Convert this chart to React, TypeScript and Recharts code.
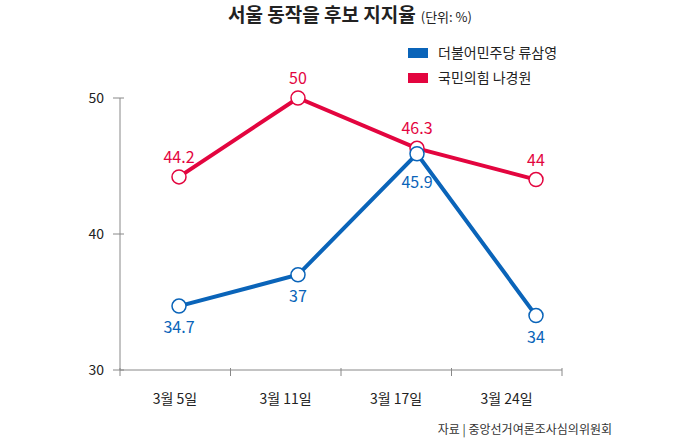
import { LineChart, Line, XAxis, YAxis, LabelList } from 'recharts';

document.body.style.margin = '0';

const dates = ['3월 5일', '3월 11일', '3월 17일', '3월 24일'];
const ryu = [34.7, 37, 45.9, 34];
const na = [44.2, 50, 46.3, 44];
const yTicks = [30, 40, 50];

const BLUE = '#0a64b9';
const RED = '#e3053f';
const FONT = '"Noto Sans CJK KR", "Noto Sans", sans-serif';

const data = dates.map((d, i) => ({ date: d, ryu: ryu[i], na: na[i] }));

function YTick({ x, y, payload }: any) {
  return (
    <g>
      <line x1={x + 1} x2={x + 12} y1={y} y2={y} stroke="#888" />
      <text x={x - 8} y={y + 5} textAnchor="end" fontSize={14} fill="#222" fontFamily={FONT}>
        {payload.value}
      </text>
    </g>
  );
}

function XTick({ x, y, payload }: any) {
  const i = payload.value as number;
  return (
    <g>
      <line x1={x} x2={x} y1={y - 10} y2={y - 2} stroke="#888" />
      {i < dates.length && (
        <text x={x + 55} y={y + 26} textAnchor="middle" fontSize={14} fill="#222" fontFamily={FONT}>
          {dates[i]}
        </text>
      )}
    </g>
  );
}

function BlueLabel({ x, y, value, index }: any) {
  const dy = index === 2 ? 34 : 27;
  return (
    <text x={x} y={y + dy} textAnchor="middle" fontSize={16} fill={BLUE} fontFamily={FONT}>
      {value}
    </text>
  );
}

const dot = (c: string) => ({ r: 7, fill: '#fff', stroke: c, strokeWidth: 1.5 });

export default function App() {
  return (
    <div style={{ position: 'relative', width: 700, height: 439, background: '#fff', fontFamily: FONT }}>
      <div style={{ position: 'absolute', top: 0, left: 0, width: 700, textAlign: 'center', color: '#222' }}>
        <span style={{ fontSize: 19, fontWeight: 700 }}>서울 동작을 후보 지지율</span>
        <span style={{ fontSize: 13, marginLeft: 5 }}>(단위: %)</span>
      </div>
      <div style={{ position: 'absolute', left: 408, top: 40, fontSize: 14, color: '#222', lineHeight: '25px' }}>
        <div><span style={{ display: 'inline-block', width: 20, height: 10, background: BLUE, marginRight: 10 }} />더불어민주당 류삼영</div>
        <div><span style={{ display: 'inline-block', width: 20, height: 10, background: RED, marginRight: 10 }} />국민의힘 나경원</div>
      </div>
      <div style={{ position: 'absolute', right: 88, top: 420, fontSize: 12, color: '#333' }}>
        자료 | 중앙선거여론조사심의위원회
      </div>
      <div style={{ position: 'absolute', left: 0, top: 0 }}>
        <LineChart width={700} height={439} data={data} margin={{ top: 98, right: 138, bottom: 39, left: 119 }}>
          <XAxis xAxisId="pts" dataKey="date" hide padding={{ left: 59, right: 26 }} />
          <XAxis
            xAxisId="lab"
            type="number"
            dataKey={() => 0}
            domain={[0, 4]}
            ticks={[0, 1, 2, 3, 4]}
            height={30}
            stroke="#888"
            tickLine={false}
            tick={<XTick />}
          />
          <YAxis
            domain={[30, 50]}
            ticks={yTicks}
            width={1}
            stroke="#888"
            tickLine={false}
            tick={<YTick />}
          />
          <Line xAxisId="pts" dataKey="na" stroke={RED} strokeWidth={4} dot={dot(RED)} isAnimationActive={false}>
            <LabelList dataKey="na" position="top" offset={14} fill={RED} fontSize={16} fontFamily={FONT} />
          </Line>
          <Line xAxisId="pts" dataKey="ryu" stroke={BLUE} strokeWidth={4} dot={dot(BLUE)} isAnimationActive={false}>
            <LabelList dataKey="ryu" content={<BlueLabel />} />
          </Line>
        </LineChart>
      </div>
    </div>
  );
}
